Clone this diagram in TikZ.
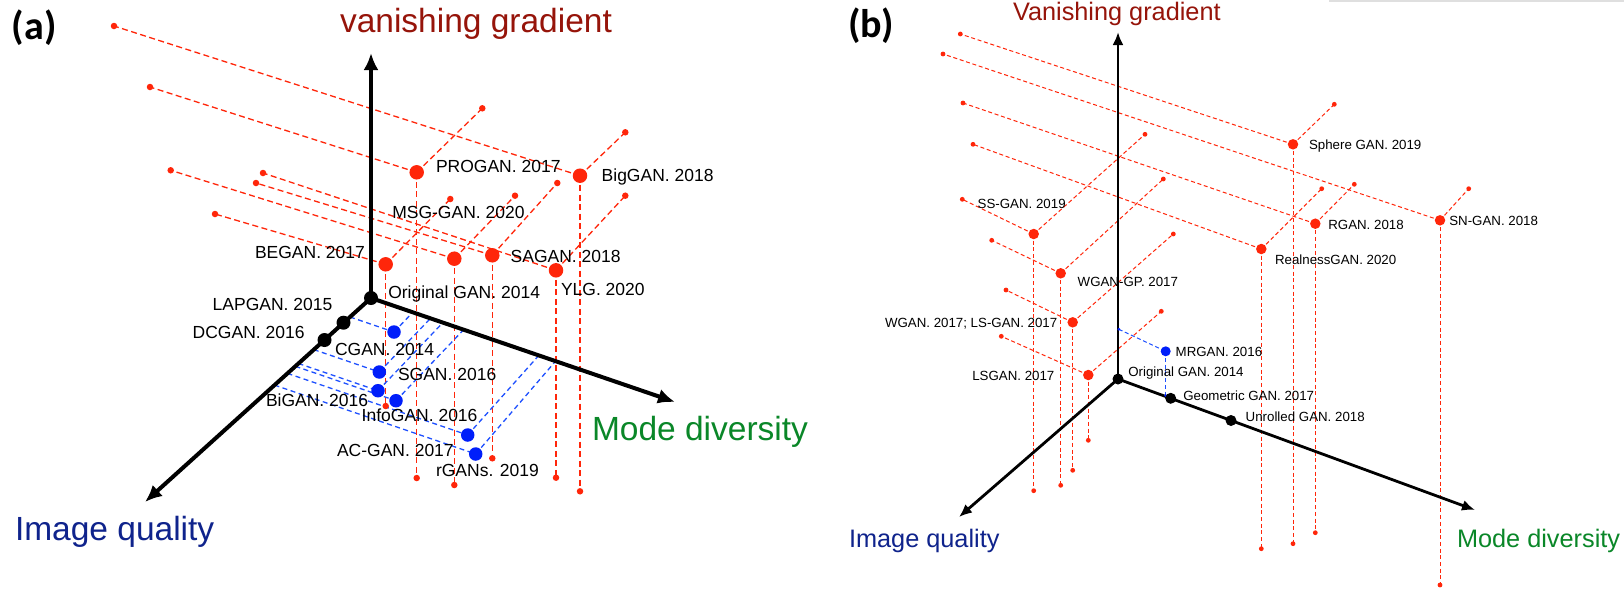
\documentclass[tikz,border=0pt]{standalone}
\usepackage{fontspec}
\setmainfont{Liberation Sans}
\newfontfamily\panelfont{Carlito}
\usetikzlibrary{arrows.meta}
\definecolor{ptred}{RGB}{255,38,10}
\definecolor{ptblue}{RGB}{0,30,250}
\definecolor{dashblue}{RGB}{30,80,255}
\definecolor{vgred}{RGB}{150,20,10}
\definecolor{iqblue}{RGB}{15,35,140}
\definecolor{mdgreen}{RGB}{10,135,40}
\begin{document}
\begin{tikzpicture}[x=1pt,y=-1pt,
  every node/.style={inner sep=0pt,outer sep=0pt},
  dotA/.style={circle,fill=ptred,minimum size=14.5pt},
  endA/.style={circle,fill=ptred,minimum size=6.5pt},
  blueA/.style={circle,fill=ptblue,minimum size=13.5pt},
  blackA/.style={circle,fill=black,minimum size=14pt},
  rdA/.style={draw=ptred,line width=1.3pt,dash pattern=on 6pt off 3.5pt},
  bdA/.style={draw=dashblue,line width=1.3pt,dash pattern=on 5pt off 3.5pt},
  axisA/.style={line width=4pt,-{Latex[length=17pt,width=15pt]}},
  labA/.style={anchor=base west,font=\fontsize{17.5}{20}\selectfont},
  bigA/.style={anchor=base west,font=\fontsize{33.5}{40}\selectfont},
  dotB/.style={circle,fill=ptred,minimum size=10.5pt},
  endB/.style={circle,fill=ptred,minimum size=4.8pt},
  blueB/.style={circle,fill=ptblue,minimum size=10pt},
  bendB/.style={circle,fill=ptblue,minimum size=3pt},
  blackB/.style={circle,fill=black,minimum size=11pt},
  rdB/.style={draw=ptred,line width=1pt,dash pattern=on 4pt off 2.7pt},
  bdB/.style={draw=dashblue,line width=1pt,dash pattern=on 4pt off 2.7pt},
  axisB/.style={line width=2.8pt,-{Latex[length=13pt,width=11pt]}},
  labB/.style={anchor=base west,font=\fontsize{13.3}{15}\selectfont},
  bigB/.style={anchor=base west,font=\fontsize{25.3}{30}\selectfont},
  panlab/.style={anchor=base west,font=\panelfont\bfseries\fontsize{40}{44}\selectfont}
]
\useasboundingbox (0,0) rectangle (1624,595);
\fill[white] (0,0) rectangle (1624,595);
\draw[gray!25,line width=1.5pt] (1329,0.75) -- (1624,0.75);

% ================= Panel (a) =================
\coordinate (Oa) at (371,298);
\coordinate (Va) at (371,53);
\coordinate (Ia) at (145,502);
\coordinate (Ma) at (675,402);

% red points: name/px/py/left/right/bottom
\foreach \n/\px/\py/\lx/\ly/\rx/\ry/\bx/\by in {
  aBE/385.7/264.3/215/214/450.3/199/385.7/406,
  aPR/416.7/172.3/150/87/482.3/108.3/416.7/478,
  aMS/454.3/258.7/170.7/170.3/515/195.7/454.3/485,
  aSA/492.3/255.3/256/183/557.3/183/492.3/458.3,
  aYL/556/270.3/263/173/625.3/195.7/556/477.7,
  aBG/580/175.7/114/26/625.3/132.3/580/491.3}{
  \coordinate (\n) at (\px,\py);
  \coordinate (\n-l) at (\lx,\ly);
  \coordinate (\n-r) at (\rx,\ry);
  \coordinate (\n-b) at (\bx,\by);
  \draw[rdA] (\n) -- (\n-l);
  \draw[rdA] (\n) -- (\n-r);
  \draw[rdA] (\n) -- (\n-b);
}
% blue points: name/px/py/IQ foot/mode foot
\foreach \n/\px/\py/\ix/\iy/\mx/\my in {
  aCG/394/332/350/317/412.8/312.3,
  aSG/379.3/372/313.8/349.6/430.5/318.3,
  aBi/378/390.7/298.5/363.5/442.9/322.6,
  aIn/396/400.7/295.4/366.3/463.6/329.7,
  aAC/467.7/435/287.5/373.4/538.3/356,
  arG/475.7/454/274.5/385.1/555.7/361}{
  \coordinate (\n) at (\px,\py);
  \coordinate (\n-i) at (\ix,\iy);
  \coordinate (\n-m) at (\mx,\my);
  \draw[bdA] (\n-i) -- (\n);
  \draw[bdA] (\n) -- (\n-m);
}
% axes
\draw[axisA] (Oa) -- (Va);
\draw[axisA] (Oa) -- (Ia);
\draw[axisA] (Oa) -- (Ma);
% dots
\foreach \n in {aBE,aPR,aMS,aSA,aYL,aBG}{
  \node[endA] (\n-ld) at (\n-l) {};
  \node[endA] (\n-rd) at (\n-r) {};
  \node[endA] (\n-bd) at (\n-b) {};
  \node[dotA] (\n-d) at (\n) {};
}
\foreach \n in {aCG,aSG,aBi,aIn,aAC,arG}{
  \node[blueA] (\n-d) at (\n) {};
}
\node[blackA] (oa) at (Oa) {};
\node[blackA] (lap) at (343.5,322.7) {};
\node[blackA] (dcg) at (324.5,340) {};
% labels
\node[panlab] (pa) at (12,39) {(a)};
\node[bigA,text=vgred] (vga) at (340,32) {vanishing gradient};
\node[bigA,text=iqblue] (iqa) at (15,540) {Image quality};
\node[bigA,text=mdgreen] (mda) at (592,440) {Mode diversity};
\node[labA] (t1) at (388.3,298.3) {Original GAN. 2014};
\node[labA] (t2) at (212.7,310) {LAPGAN. 2015};
\node[labA] (t3) at (192.7,338.3) {DCGAN. 2016};
\node[labA] (t4) at (255,258.3) {BEGAN. 2017};
\node[labA] (t5) at (436,172.3) {PROGAN. 2017};
\node[labA] (t6) at (601.7,181) {BigGAN. 2018};
\node[labA] (t7) at (392.3,218.3) {MSG-GAN. 2020};
\node[labA] (t8) at (510.7,262.3) {SAGAN. 2018};
\node[labA] (t9) at (561,295) {YLG. 2020};
\node[labA] (t10) at (335,355) {CGAN. 2014};
\node[labA] (t11) at (398,380) {SGAN. 2016};
\node[labA] (t12) at (266,406.7) {BiGAN. 2016};
\node[labA] (t13) at (361.7,421.7) {InfoGAN. 2016};
\node[labA] (t14) at (337,456.7) {AC-GAN. 2017};
\node[labA] (t15) at (436,476.7) {rGANs. 2019};

% ================= Panel (b) =================
\coordinate (Ob) at (1118,379);
\coordinate (Vb) at (1118,32);
\coordinate (Ib) at (959,517);
\coordinate (Mb) at (1475,510);

\foreach \n/\px/\py/\lx/\ly/\rx/\ry/\bx/\by in {
  bSS/1033.7/234/962.3/199.3/1145/134.3/1033.7/490.7,
  bWG/1060.7/273.3/991.7/240.3/1163.3/179/1060.7/485.3,
  bWL/1072.7/322.3/1006/290/1173.3/234/1072.7/470.3,
  bLS/1088.3/375/1001.3/336.3/1161.3/311.3/1088.3/440.3,
  bSP/1293/144.3/960.3/34/1334.3/104.3/1293/543.7,
  bRG/1315.3/223.7/963/103/1354.3/184.3/1315.3/532.7,
  bSN/1440/220.3/943/54/1468.7/188.7/1440/585,
  bRL/1261.3/249/973/144.3/1321.7/188.7/1261.3/548.7}{
  \coordinate (\n) at (\px,\py);
  \coordinate (\n-l) at (\lx,\ly);
  \coordinate (\n-r) at (\rx,\ry);
  \coordinate (\n-b) at (\bx,\by);
  \draw[rdB] (\n) -- (\n-l);
  \draw[rdB] (\n) -- (\n-r);
  \draw[rdB] (\n) -- (\n-b);
}
\coordinate (bMR) at (1165.7,351.3);
\coordinate (bMR-v) at (1118.8,329.3);
\coordinate (bMR-m) at (1165.7,395.5);
\draw[bdB] (bMR-v) -- (bMR);
\draw[bdB] (bMR) -- (bMR-m);
% axes
\draw[axisB] (Ob) -- (Vb);
\draw[axisB] (Ob) -- (Ib);
\draw[axisB] (Ob) -- (Mb);
% dots
\foreach \n in {bSS,bWG,bWL,bLS,bSP,bRG,bSN,bRL}{
  \node[endB] (\n-ld) at (\n-l) {};
  \node[endB] (\n-rd) at (\n-r) {};
  \node[endB] (\n-bd) at (\n-b) {};
  \node[dotB] (\n-d) at (\n) {};
}
\node[bendB] (bMR-vd) at (bMR-v) {};
\node[bendB] (bMR-md) at (bMR-m) {};
\node[blueB] (bMR-d) at (bMR) {};
\node[blackB] (ob) at (Ob) {};
\node[blackB] (geo) at (1170.7,398.3) {};
\node[blackB] (unr) at (1231,420.5) {};
% labels
\node[panlab] (pb) at (848,37) {(b)};
\node[bigB,text=vgred] (vgb) at (1013,20) {Vanishing gradient};
\node[bigB,text=iqblue] (iqb) at (849,547) {Image quality};
\node[bigB,text=mdgreen] (mdb) at (1457,547) {Mode diversity};
\node[labB] (u1) at (977.7,208.3) {SS-GAN. 2019};
\node[labB] (u2) at (1077.7,286.7) {WGAN-GP. 2017};
\node[labB] (u3) at (885,327.7) {WGAN. 2017; LS-GAN. 2017};
\node[labB] (u4) at (972.3,380) {LSGAN. 2017};
\node[labB] (u5) at (1175.7,356) {MRGAN. 2016};
\node[labB] (u6) at (1128.3,376.7) {Original GAN. 2014};
\node[labB] (u7) at (1183.3,400.7) {Geometric GAN. 2017};
\node[labB] (u8) at (1245.7,421.7) {Unrolled GAN. 2018};
\node[labB] (u9) at (1309,149.3) {Sphere GAN. 2019};
\node[labB] (u10) at (1328.3,229) {RGAN. 2018};
\node[labB] (u11) at (1449.3,225.7) {SN-GAN. 2018};
\node[labB] (u12) at (1275,264) {RealnessGAN. 2020};
\end{tikzpicture}
\end{document}
